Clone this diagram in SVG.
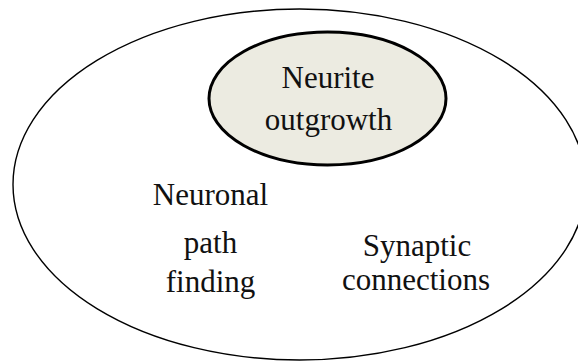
<svg xmlns="http://www.w3.org/2000/svg" width="578" height="362" viewBox="0 0 578 362">
<style>
.t{font-family:"Liberation Serif","Times New Roman",serif;font-size:31px;fill:#111;text-anchor:middle}
</style>
<rect width="578" height="362" fill="#fff"/>
<g id="outer">
<ellipse cx="299.5" cy="184.5" rx="286.5" ry="175.5" fill="none" stroke="#000" stroke-width="1.4"/>
</g>
<g id="neurite-outgrowth">
<ellipse cx="327.5" cy="98.5" rx="118.5" ry="66.5" fill="#ecebe1" stroke="#000" stroke-width="3"/>
<text class="t" x="328" y="88">Neurite</text>
<text class="t" x="328.5" y="130">outgrowth</text>
</g>
<g id="neuronal-path-finding">
<text class="t" x="210.5" y="205">Neuronal</text>
<text class="t" x="210.5" y="253">path</text>
<text class="t" x="210.5" y="292">finding</text>
</g>
<g id="synaptic-connections">
<text class="t" x="417" y="256">Synaptic</text>
<text class="t" x="416" y="290">connections</text>
</g>
<g id="connectors"/>
</svg>
